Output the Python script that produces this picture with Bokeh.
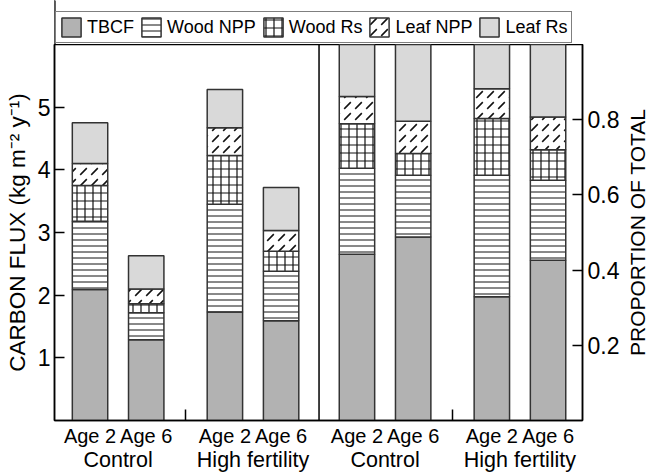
from bokeh.plotting import figure
from bokeh.layouts import column, row
from bokeh.models import (Range1d, LinearAxis, FixedTicker, Legend, LegendItem,
                          Span, Div, ColumnDataSource)
from bokeh.embed import file_html
from bokeh.resources import INLINE

# ---------------- data ----------------
age_labels = ["Age 2", "Age 6", "Age 2", "Age 6"]
treatments = ["Control", "High fertility"]
components = ["TBCF", "Wood NPP", "Wood Rs", "Leaf NPP", "Leaf Rs"]

# absolute carbon flux, kg m-2 y-1  (Control A2, Control A6, HighFert A2, HighFert A6)
tbcf_flux = [2.09, 1.29, 1.73, 1.59]
wood_npp_flux = [1.09, 0.43, 1.72, 0.79]
wood_rs_flux = [0.57, 0.145, 0.78, 0.32]
leaf_npp_flux = [0.35, 0.235, 0.44, 0.33]
leaf_rs_flux = [0.65, 0.53, 0.61, 0.69]

# proportion of total
tbcf_prop = [0.442, 0.488, 0.329, 0.426]
wood_npp_prop = [0.229, 0.164, 0.323, 0.213]
wood_rs_prop = [0.118, 0.058, 0.151, 0.081]
leaf_npp_prop = [0.073, 0.086, 0.079, 0.087]
leaf_rs_prop = [0.138, 0.204, 0.118, 0.193]

flux_ticks = [1, 2, 3, 4, 5]
prop_ticks = [0.2, 0.4, 0.6, 0.8]
left_title = "CARBON FLUX (kg m\u207b\u00b2 y\u207b\u00b9)"
right_title = "PROPORTION OF TOTAL"

# ---------------- layout ----------------
FONT = "Liberation Sans"
W, H = 649, 474
BL, BT, BB = 54, 44, 53
SIDE_W = 27                 # strip on the right that holds the right title
BR = 39                     # room for the right tick labels
MAIN_W = W - SIDE_W
MAIN_H = H - BT
FRAME_H = MAIN_H - BB
left_x = [1.0, 2.0, 3.4, 4.4]
right_x = [5.75, 6.75, 8.15, 9.15]
bar_w = 0.63
all_x = left_x + right_x
group_centers = [(all_x[i] + all_x[i + 1]) / 2 for i in range(0, 8, 2)]
minor_sep = [(left_x[1] + left_x[2]) / 2, (right_x[1] + right_x[2]) / 2]
panel_sep = (left_x[3] + right_x[0]) / 2

fills = ["#b2b2b2", "white", "white", "white", "#d9d9d9"]
hatches = [" ", "horizontal_line", "cross", "right_diagonal_dash", " "]
hscale = [12, 6, 8, 11, 12]
hweight = [1, 1, 1.2, 1.6, 1]
bar_line = dict(line_color="#333333", line_width=1.5, hatch_color="#111111")

p = figure(width=MAIN_W, height=MAIN_H, output_backend="svg", toolbar_location=None,
           x_range=Range1d(0.368, 9.763), y_range=Range1d(0, 6),
           min_border_left=BL, min_border_right=BR, min_border_top=0,
           min_border_bottom=BB)
p.extra_y_ranges = {"prop": Range1d(0, 1)}
p.xgrid.visible = False
p.ygrid.visible = False
p.outline_line_color = "black"
p.outline_line_width = 1.5
p.background_fill_color = "white"
p.border_fill_color = "white"

src_l = ColumnDataSource(dict(x=left_x, **{
    "TBCF": tbcf_flux, "Wood NPP": wood_npp_flux, "Wood Rs": wood_rs_flux,
    "Leaf NPP": leaf_npp_flux, "Leaf Rs": leaf_rs_flux}))
src_r = ColumnDataSource(dict(x=right_x, **{
    "TBCF": tbcf_prop, "Wood NPP": wood_npp_prop, "Wood Rs": wood_rs_prop,
    "Leaf NPP": leaf_npp_prop, "Leaf Rs": leaf_rs_prop}))

style = dict(width=bar_w, fill_color=fills, hatch_pattern=hatches,
             hatch_scale=hscale, hatch_weight=hweight, **bar_line)
rl = p.vbar_stack(components, x="x", source=src_l, **style)
rr = p.vbar_stack(components, x="x", source=src_r, y_range_name="prop", **style)

p.add_layout(Span(location=panel_sep, dimension="height", line_color="black",
                  line_width=1.5))


def style_axis(ax, size):
    ax.major_label_text_font = FONT
    ax.major_label_text_font_size = size
    ax.major_label_text_color = "black"
    ax.axis_line_width = 1.5
    ax.axis_line_color = "black"
    ax.major_tick_line_width = 1.5
    ax.major_tick_line_color = "black"
    ax.minor_tick_line_color = None


# left axis
ya = p.yaxis[0]
style_axis(ya, "23px")
ya.ticker = FixedTicker(ticks=flux_ticks)
ya.major_tick_in = 10
ya.major_tick_out = 0
ya.major_label_standoff = 4
ya.axis_label = left_title
ya.axis_label_standoff = 5
ya.axis_label_text_font = FONT
ya.axis_label_text_font_style = "normal"
ya.axis_label_text_font_size = "22.5px"
ya.axis_label_text_color = "black"

# right axis
ra = LinearAxis(y_range_name="prop", ticker=FixedTicker(ticks=prop_ticks))
style_axis(ra, "23px")
ra.major_tick_in = 10
ra.major_tick_out = 0
ra.major_label_standoff = 5
p.add_layout(ra, "right")

# bottom axis (ages)
xa = p.xaxis[0]
style_axis(xa, "20px")
xa.ticker = FixedTicker(ticks=all_x, minor_ticks=minor_sep)
xa.major_label_overrides = {x: lab for x, lab in zip(all_x, age_labels * 2)}
xa.major_tick_line_color = None
xa.major_tick_in = 0
xa.major_tick_out = 0
xa.minor_tick_line_color = "black"
xa.minor_tick_in = 11
xa.minor_tick_out = 0
xa.minor_tick_line_width = 1.5
xa.major_label_standoff = 4

# second bottom axis (treatments)
ga = LinearAxis(ticker=FixedTicker(ticks=group_centers))
style_axis(ga, "21.5px")
ga.axis_line_color = None
ga.major_tick_line_color = None
ga.major_tick_in = 0
ga.major_tick_out = 0
ga.major_label_standoff = -2
ga.major_label_overrides = {x: lab for x, lab in zip(group_centers, treatments * 2)}
p.add_layout(ga, "below")

# ---------------- right strip with the rotated right title ----------------
side_html = (
    '<div style="writing-mode: vertical-rl; transform: rotate(180deg); '
    f'height: {FRAME_H}px; width: {SIDE_W}px; line-height: {SIDE_W}px; '
    'text-align: center; margin: 0; padding: 0; position: relative; left: 2px; '
    f"font-family: '{FONT}'; font-size: 21px; color: black; white-space: nowrap;\">"
    f"{right_title}</div>"
)
side = Div(text=side_html, width=SIDE_W, height=MAIN_H, margin=0,
           styles={"margin": "0", "padding": "0", "overflow": "visible"})

# ---------------- legend strip on top ----------------
top = figure(width=W, height=BT, output_backend="svg", toolbar_location=None,
             x_range=Range1d(0, 1), y_range=Range1d(0, 1),
             min_border_left=BL, min_border_right=W - MAIN_W + BR, min_border_top=0,
             min_border_bottom=0)
top.axis.visible = False
top.xgrid.visible = False
top.ygrid.visible = False
top.outline_line_color = None
top.border_fill_color = "white"
top.background_fill_color = "white"
dummy = []
for i, c in enumerate(components):
    # legend-only renderer: its bar lies outside the visible x range
    dummy.append(top.vbar(x=[-5], top=[1], width=bar_w, fill_color=fills[i],
                          hatch_pattern=hatches[i], hatch_scale=hscale[i],
                          hatch_weight=hweight[i], **bar_line))
legend = Legend(items=[LegendItem(label=c, renderers=[r]) for c, r in zip(components, dummy)],
                orientation="horizontal", location=(1, 1), margin=0,
                padding=3, spacing=5, label_standoff=4, glyph_width=24,
                glyph_height=24, label_text_font=FONT, label_text_font_size="18px",
                label_text_color="black",
                border_line_color="black", border_line_width=1.2,
                background_fill_alpha=1)
top.add_layout(legend, "center")

layout = column(top, row(p, side, spacing=0), spacing=0)
open("out.html", "w").write(file_html(layout, INLINE))
